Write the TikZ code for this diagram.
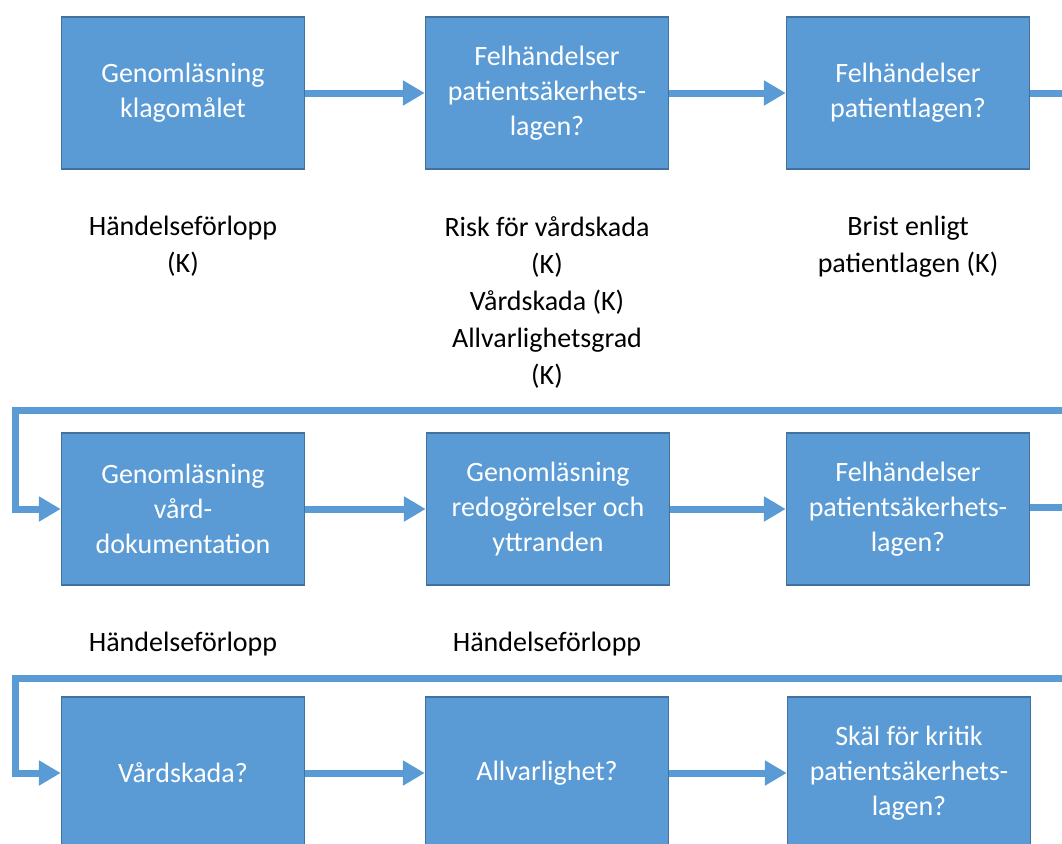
\documentclass[tikz,border=0pt]{standalone}
\usepackage{fontspec}
\setmainfont{Carlito}
\usetikzlibrary{arrows.meta}

\definecolor{boxblue}{HTML}{5B9BD5}
\definecolor{boxedge}{HTML}{41719C}

\tikzset{
  stepbox/.style={rectangle, fill=boxblue, draw=boxedge, line width=1.5pt,
    minimum width=243pt, minimum height=152pt, inner sep=0pt,
    text=white, align=center, font=\fontsize{28}{35}\selectfont},
  note/.style={anchor=north, inner sep=0pt, align=center,
    font=\fontsize{28}{37}\selectfont},
  link/.style={draw=boxblue, line width=7pt, line join=miter},
  flow/.style={link, -{Triangle[length=22pt,width=24pt]}}
}

\begin{document}
\begin{tikzpicture}[x=1pt,y=-1pt]
   \clip (0,0) rectangle (1062,843);

   % first row
   \node [stepbox] (readclaim) at (183,93) {Genomläsning\\klagomålet};
   \node [stepbox] (pslone) at (547,93) {Felhändelser\\patientsäkerhets-\\lagen?};
   \node [stepbox] (pl) at (908,93) {Felhändelser\\patientlagen?};

   \node [note] (eventone) at (183,216) {Händelseförlopp\\(K)};
   \node [note] (risk) at (547,216) {Risk för vårdskada\\(K)\\Vårdskada (K)\\Allvarlighetsgrad\\(K)};
   \node [note] (flaw) at (908,216) {Brist enligt\\patientlagen (K)};

   % second row
   \node [stepbox] (readrecord) at (183,509) {Genomläsning\\vård-\\dokumentation};
   \node [stepbox] (readstmt) at (548,509) {Genomläsning\\redogörelser och\\yttranden};
   \node [stepbox] (psltwo) at (908,509) {Felhändelser\\patientsäkerhets-\\lagen?};

   \node [note] (eventtwo) at (183,632) {Händelseförlopp};
   \node [note] (eventthree) at (547,632) {Händelseförlopp};

   % third row
   \node [stepbox] (injury) at (183,773) {Vårdskada?};
   \node [stepbox] (severity) at (547,773) {Allvarlighet?};
   \node [stepbox] (critique) at (909,773) {Skäl för kritik\\patientsäkerhets-\\lagen?};

   % connectors
   \coordinate (outone) at (1075,93);
   \coordinate (backone) at (1075,410);
   \coordinate (turnone) at (15.5,410);
   \coordinate (outtwo) at (1075,507);
   \coordinate (backtwo) at (1075,678);
   \coordinate (turntwo) at (15.5,678);

   \draw [flow] (readclaim) -- (pslone);
   \draw [flow] (pslone) -- (pl);
   \draw [link] (pl) -- (outone);
   \draw [flow] (backone) -- (turnone) |- (readrecord);

   \draw [flow] (readrecord) -- (readstmt);
   \draw [flow] (readstmt) -- (psltwo);
   \draw [link] (psltwo.east |- outtwo) -- (outtwo);
   \draw [flow] (backtwo) -- (turntwo) |- (injury);

   \draw [flow] (injury) -- (severity);
   \draw [flow] (severity) -- (critique);
\end{tikzpicture}
\end{document}
